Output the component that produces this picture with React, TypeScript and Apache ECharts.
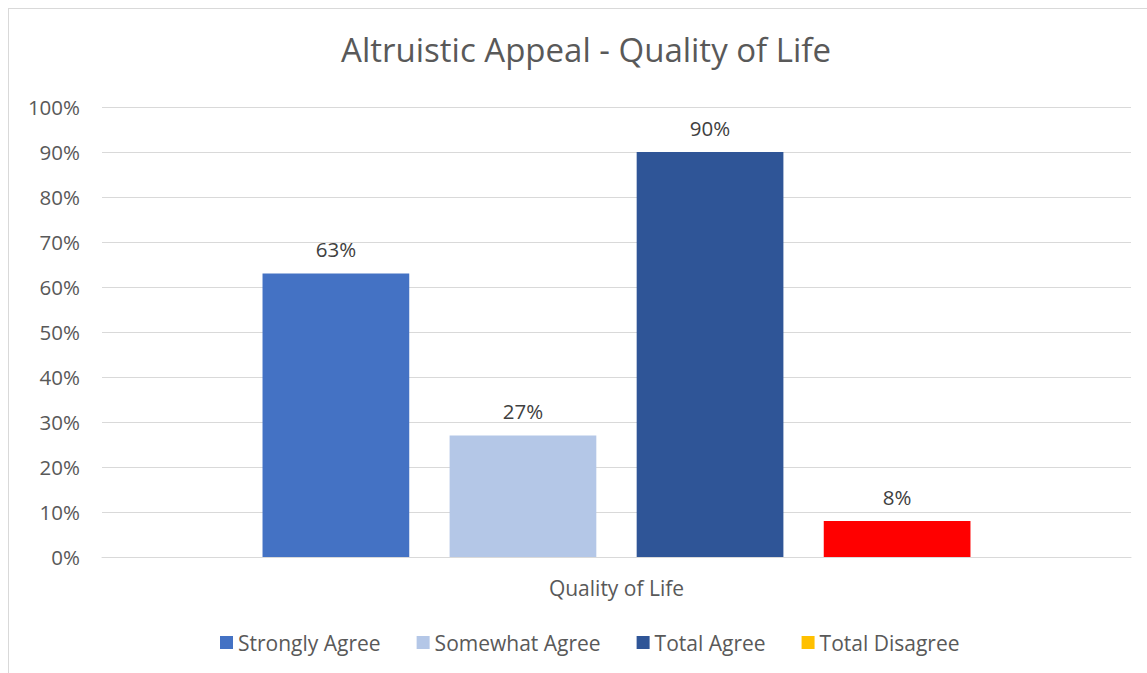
import React, { useEffect, useRef } from "react";
import * as echarts from "echarts";

const categories = ["Quality of Life"];
const seriesNames = ["Strongly Agree", "Somewhat Agree", "Total Agree", "Total Disagree"];
const seriesValues = [63, 27, 90, 8];
const seriesColors = ["#4472C4", "#B4C7E7", "#2F5597", "#FFC000"];
const barColors = ["#4472C4", "#B4C7E7", "#2F5597", "#FF0000"];
const yTicks = { min: 0, max: 100, interval: 10 };

export default function App() {
  const ref = useRef<HTMLDivElement>(null);
  useEffect(() => {
    const chart = echarts.init(ref.current!, null, { renderer: "svg" });
    const font = "'Open Sans', 'Noto Sans', sans-serif";
    chart.setOption({
      animation: false,
      backgroundColor: "#ffffff",
      textStyle: { fontFamily: font },
      title: {
        text: "Altruistic Appeal - Quality of Life",
        left: 581,
        top: 28,
        textAlign: "center",
        textStyle: { fontSize: 33, fontWeight: "normal", color: "#595959", fontFamily: font },
      },
      graphic: [
        { type: "line", shape: { x1: 8, y1: 8.5, x2: 1147, y2: 8.5 }, style: { stroke: "#d9d9d9", lineWidth: 1 } },
        { type: "line", shape: { x1: 8.5, y1: 8, x2: 8.5, y2: 673 }, style: { stroke: "#d9d9d9", lineWidth: 1 } },
      ],
      legend: {
        left: 215,
        top: 627,
        itemWidth: 13,
        itemHeight: 13,
        itemGap: 36,
        icon: "rect",
        textStyle: { fontSize: 21, color: "#595959", fontFamily: font },
        data: seriesNames,
      },
      grid: { left: 102, right: 16, top: 107, bottom: 116 },
      xAxis: {
        type: "category",
        data: categories,
        axisLine: { show: true, lineStyle: { color: "#d9d9d9" } },
        axisTick: { show: false },
        axisLabel: { fontSize: 21, color: "#595959", margin: 20, fontFamily: font },
      },
      yAxis: {
        type: "value",
        min: yTicks.min,
        max: yTicks.max,
        interval: yTicks.interval,
        axisLine: { show: false },
        axisTick: { show: false },
        axisLabel: { formatter: "{value}%", fontSize: 20.5, color: "#595959", margin: 22, fontFamily: font },
        splitLine: { lineStyle: { color: "#d9d9d9" } },
      },
      series: seriesNames.map((name, i) => ({
        name,
        type: "bar",
        barGap: "27.5%",
        barCategoryGap: "31.2%",
        itemStyle: { color: seriesColors[i] },
        data: [{ value: seriesValues[i], itemStyle: { color: barColors[i] } }],
        label: {
          show: true,
          position: "top",
          distance: 14,
          formatter: "{c}%",
          fontSize: 20.5,
          color: "#404040",
          fontFamily: font,
        },
      })),
    });
    return () => chart.dispose();
  }, []);
  return <div ref={ref} style={{ position: "fixed", left: 0, top: 0, width: 1147, height: 673 }} />;
}
